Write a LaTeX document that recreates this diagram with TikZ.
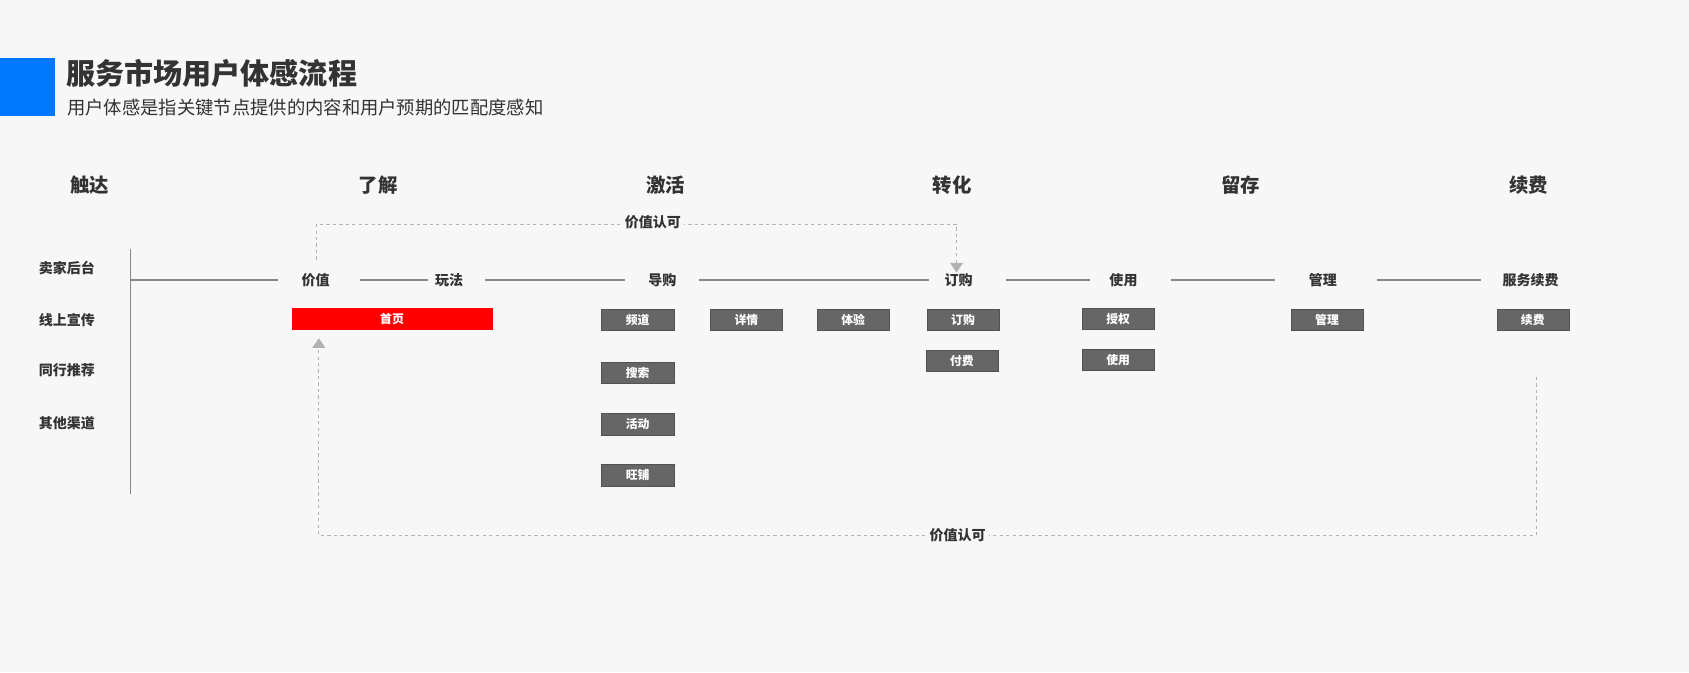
\documentclass[tikz,border=0pt]{standalone}
\usepackage{fontspec}
\setmainfont{Noto Sans CJK SC}
\usetikzlibrary{arrows.meta}
\definecolor{bgc}{HTML}{F7F7F7}
\definecolor{txt}{HTML}{333333}
\definecolor{boxc}{HTML}{666666}
\definecolor{bluec}{HTML}{0077FF}
\definecolor{linec}{HTML}{888888}
\tikzset{
    stagelbl/.style={font=\fontsize{18}{20}\selectfont\bfseries, text=txt},
    rowlbl/.style={font=\fontsize{13}{15}\selectfont\bfseries, text=txt},
    steplbl/.style={font=\fontsize{13}{15}\selectfont\bfseries, text=txt, inner sep=0pt},
    grbox/.style={fill=boxc, draw=boxc!80!black, text=white, font=\fontsize{11}{13}\selectfont\bfseries,
        minimum width=67pt, minimum height=20pt, inner sep=0pt},
    dashc/.style={dashed, draw=gray!60, line width=1pt},
    mainln/.style={draw=linec, line width=1.2pt}
}
\begin{document}
\begin{tikzpicture}[x=1pt, y=-1pt]
        \useasboundingbox[fill=bgc] (0,0) rectangle (1568,624);
        \fill[bluec] (0,54) rectangle (51,108);
        \node[anchor=west, text=txt, font=\fontsize{27}{30}\selectfont\bfseries] (title) at (58,68) {服务市场用户体感流程};
        \node[anchor=west, text=txt, font=\fontsize{17}{20}\selectfont] (subtitle) at (59,100) {用户体感是指关键节点提供的内容和用户预期的匹配度感知};

        % stages
        \foreach \x/\s in {83/触达, 351/了解, 618/激活, 884/转化, 1152/留存, 1419/续费}
            \node[stagelbl] at (\x,172) {\s};

        % channels
        \foreach \y/\s in {249/卖家后台, 297/线上宣传, 344/同行推荐, 393/其他渠道}
            \node[rowlbl] at (62,\y) {\s};
        \draw[linec, line width=1.5pt] (121,231) -- (121,459);

        % main flow
        \coordinate (start) at (121,260);
        \node[steplbl] (jiazhi) at (293,260) {价值};
        \node[steplbl] (wanfa) at (417,260) {玩法};
        \node[steplbl] (daogou) at (615,260) {导购};
        \node[steplbl] (dinggou) at (890,260) {订购};
        \node[steplbl] (shiyong) at (1043,260) {使用};
        \node[steplbl] (guanli) at (1228,260) {管理};
        \node[steplbl] (xufei) at (1421,260) {服务续费};
        \draw[mainln] (start) -- ++(137,0);
        \draw[mainln] (334,260) -- (397,260);
        \draw[mainln] (450,260) -- (580,260);
        \draw[mainln] (649,260) -- (862,260);
        \draw[mainln] (934,260) -- (1012,260);
        \draw[mainln] (1087,260) -- (1184,260);
        \draw[mainln] (1278,260) -- (1375,260);

        % boxes
        \node[grbox, fill=red, draw=red, minimum width=186pt] (shouye) at (364,296) {首页};
        \node[grbox] (pindao) at (592,297) {频道};
        \node[grbox] (xiangqing) at (693,297) {详情};
        \node[grbox] (tiyan) at (792,297) {体验};
        \node[grbox] (bdinggou) at (894,297) {订购};
        \node[grbox] (shouquan) at (1038,296) {授权};
        \node[grbox] (bguanli) at (1232,297) {管理};
        \node[grbox] (bxufei) at (1423,297) {续费};
        \node[grbox] (fufei) at (893,335) {付费};
        \node[grbox] (bshiyong) at (1038,334) {使用};
        \node[grbox] (sousuo) at (592,346) {搜索};
        \node[grbox] (huodong) at (592,394) {活动};
        \node[grbox] (wangpu) at (592,441) {旺铺};

        % feedback loops
        \coordinate (topa) at (294,241);
        \coordinate (topb) at (888,253);
        \draw[dashc, -{Triangle[length=9pt, width=12pt]}] (topa) -- (294,208) -- (888,208) -- (topb);
        \node[steplbl, fill=bgc, inner xsep=3pt] (lbltop) at (606,206) {价值认可};
        \coordinate (bota) at (1426,350);
        \coordinate (botb) at (296,314);
        \draw[dashc, -{Triangle[length=9pt, width=12pt]}] (bota) -- (1426,497) -- (296,497) -- (botb);
        \node[steplbl, fill=bgc, inner xsep=3pt] (lblbot) at (889,497) {价值认可};
\end{tikzpicture}
\end{document}
